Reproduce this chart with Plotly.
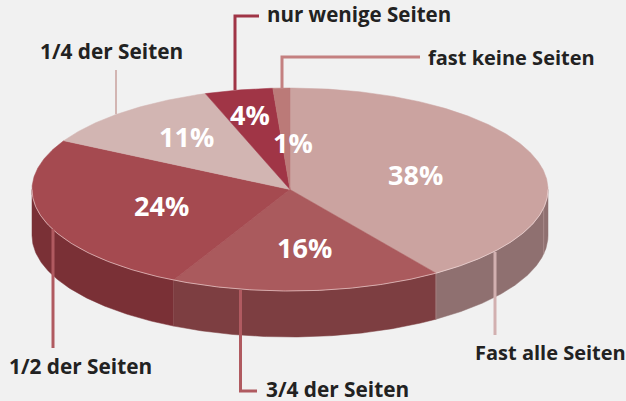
import numpy as np
import plotly.graph_objects as go

categories = ["Fast alle Seiten", "3/4 der Seiten", "1/2 der Seiten", "1/4 der Seiten", "nur wenige Seiten", "fast keine Seiten"]
values = [38, 16, 24, 11, 4, 1]
top_colors = ["#cba3a0", "#aa5a5d", "#a54a50", "#d2b5b2", "#a03546", "#bb7a78"]
side_colors = ["#8f7070", "#7d3e41", "#7a3036", "#7a3036", "#7a3036", "#7a3036"]
label_pos = [(550.5, 352.5), (337.5, 388.5), (80.5, 366), (111, 51), (358.5, 14), (511.5, 57)]
label_sizes = [20, 20.8, 20.8, 20.8, 20.5, 20]
pct_pos = [(415, 174), (304, 247), (161, 205), (186, 136), (250, 114), (293, 142)]
leaders = [
    ([495, 495], [252, 335], "#d2b0b0", 3),
    ([240.5, 240.5, 257], [290, 391, 391], "#b05a60", 3),
    ([53, 53], [229, 348], "#b05a60", 3),
    ([116, 116], [70, 114], "#d2b5b2", 2),
    ([235, 235, 259], [90, 16, 16], "#a03546", 3),
    ([282, 282, 420], [88, 57, 57], "#c48080", 3),
]
BG = "#f1f1f1"
CX, CY, RX, RY, DEPTH = 290, 189.5, 258, 101.5, 46

fig = go.Figure()
frac = np.array(values) / sum(values) * 360
ends = np.cumsum(frac)
starts = ends - frac


def arc(a, b, dy=0):
    t = np.radians(np.linspace(a, b, max(int(abs(b - a)) * 2, 2) + 1))
    return CX + RX * np.sin(t), CY - RY * np.cos(t) + dy


def poly(x, y, color, width=0, line=None, fill=True):
    fig.add_trace(go.Scatter(
        x=list(x), y=list(y), mode="lines",
        fill="toself" if fill else "none",
        fillcolor=color if fill else None,
        line=dict(color=line or color, width=width),
        hoverinfo="skip", showlegend=False,
    ))


# side walls of the visible front half
for s, e, c in zip(starts, ends, side_colors):
    a, b = max(s, 90), min(e, 270)
    if b <= a:
        continue
    x1, y1 = arc(a, b)
    x2, y2 = arc(b, a, DEPTH)
    poly(np.r_[x1, x2, x1[0]], np.r_[y1, y2, y1[0]], c, 0.5)

# seams on the walls
for th, col in [(ends[0], "#a98a8a"), (ends[1], "#8a4c4f"), (100.5, "#a98a8a")]:
    x, y = arc(th, th)
    poly([x[0], x[0]], [y[0], y[0] + DEPTH], col, 1, fill=False)

# top face
for s, e, c in zip(starts, ends, top_colors):
    x, y = arc(s, e)
    poly(np.r_[CX, x, CX], np.r_[CY, y, CY], c, 0.5)

# light rim on the front edge
x, y = arc(90, 270)
poly(x, y, "rgba(255,235,235,0.55)", 1, fill=False)

for xs, ys, c, w in leaders:
    poly(xs, ys, c, w, fill=False)

for name, (x, y), sz in zip(categories, label_pos, label_sizes):
    fig.add_annotation(x=x, y=y, text=f"<b>{name}</b>", showarrow=False,
                       font=dict(family="Open Sans", size=sz, color="#222222"),
                       xanchor="center", yanchor="middle")
for v, (x, y) in zip(values, pct_pos):
    fig.add_annotation(x=x, y=y, text=f"<b>{v}%</b>", showarrow=False,
                       font=dict(family="Open Sans", size=27, color="#ffffff"),
                       xanchor="center", yanchor="middle")

fig.update_layout(
    width=626, height=401, margin=dict(l=0, r=0, t=0, b=0),
    paper_bgcolor=BG, plot_bgcolor=BG, showlegend=False,
    xaxis=dict(range=[0, 626], visible=False, fixedrange=True),
    yaxis=dict(range=[401, 0], visible=False, fixedrange=True),
)
fig.write_html("out.html", config={"displayModeBar": False},
               post_script="document.body.style.margin='0';document.body.style.overflow='hidden';")
